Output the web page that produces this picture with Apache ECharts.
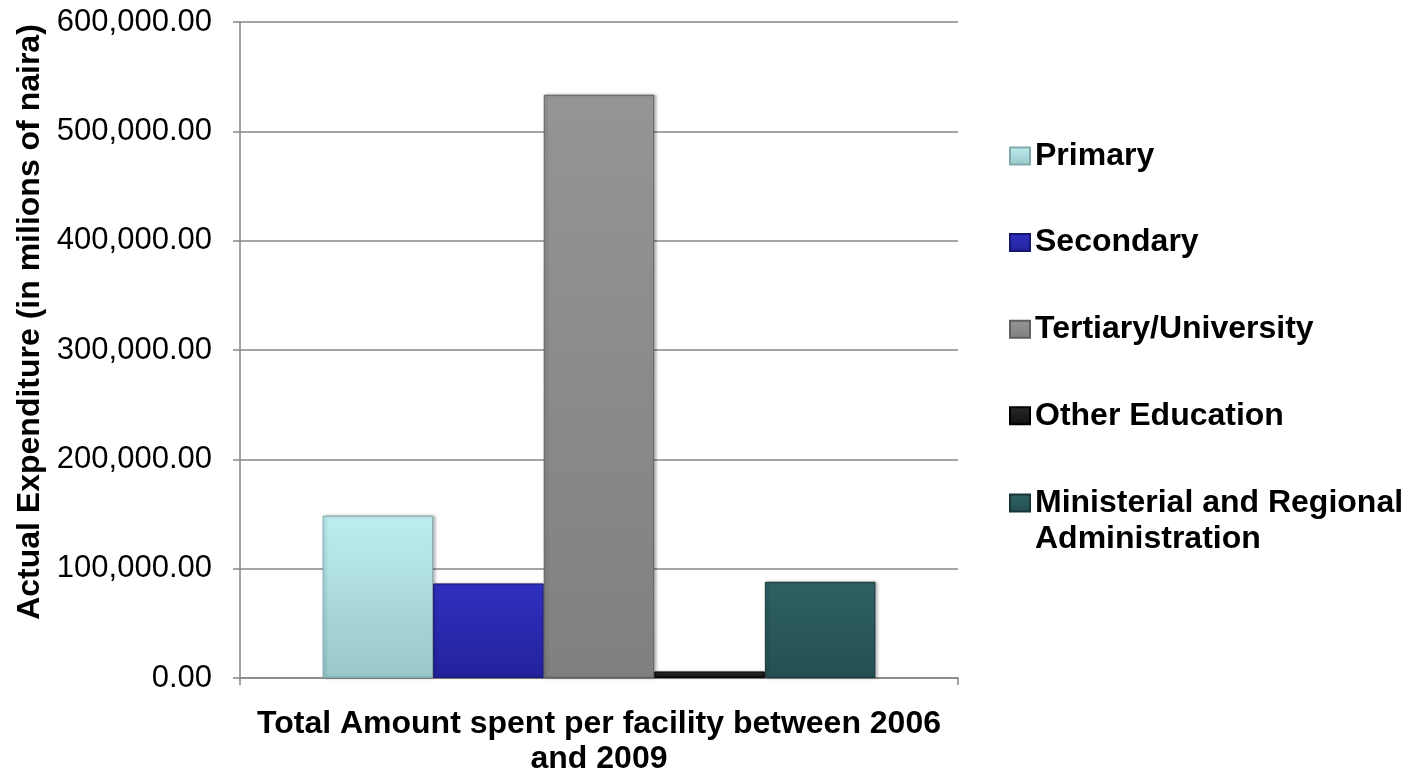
<!DOCTYPE html>
<html>
<head>
<meta charset="utf-8">
<script src="https://cdn.jsdelivr.net/npm/echarts@6/dist/echarts.min.js"></script>
<style>
  html, body { margin: 0; padding: 0; background: #ffffff; }
  #chart { width: 1418px; height: 774px; }
</style>
</head>
<body>
<div id="chart"></div>
<script>
// Education spending by facility type, 2006-2009 (millions of naira)
const categories = ['Total Amount spent per facility between 2006\nand 2009'];
const seriesNames = ['Primary', 'Secondary', 'Tertiary/University', 'Other Education', 'Ministerial and Regional Administration'];
const primaryValues = [148500];
const secondaryValues = [86500];
const tertiaryValues = [533500];
const otherValues = [6000];
const ministerialValues = [88000];
const yTicks = [0, 100000, 200000, 300000, 400000, 500000, 600000];

const seriesValues = [primaryValues, secondaryValues, tertiaryValues, otherValues, ministerialValues];
// top / bottom / edge colours of each bevelled bar
const palette = [
  ['#bfeef1', '#98c6c9', '#7fa9ac'],
  ['#3030c0', '#22229c', '#16166e'],
  ['#959595', '#808080', '#5e5e5e'],
  ['#2a2a2a', '#101010', '#000000'],
  ['#2f6064', '#244f52', '#173638']
];

const FONT = '"Liberation Sans", Arial, sans-serif';
const legendText = { fontFamily: FONT, fontSize: 32, fontWeight: 'bold', color: '#000000', lineHeight: 36 };

function fill(c) {
  return new echarts.graphic.LinearGradient(0, 0, 0, 1, [
    { offset: 0, color: c[0] },
    { offset: 1, color: c[1] }
  ]);
}

const series = seriesNames.map((name, i) => ({
  name: name,
  type: 'bar',
  data: seriesValues[i],
  barGap: '0%',
  barCategoryGap: '23%',
  itemStyle: {
    color: fill(palette[i]),
    borderColor: palette[i][2],
    borderWidth: 1,
    shadowColor: 'rgba(0,0,0,0.25)',
    shadowBlur: 3,
    shadowOffsetX: 2,
    shadowOffsetY: 0
  },
  emphasis: { disabled: true }
}));

const chart = echarts.init(document.getElementById('chart'), null, { renderer: 'canvas' });

const legendBase = {
  orient: 'vertical',
  left: 1009,
  padding: 0,
  itemWidth: 20,
  itemHeight: 17,
  icon: 'rect',
  textStyle: legendText
};

chart.setOption({
  animation: false,
  backgroundColor: '#ffffff',
  grid: { left: 240, right: 460, top: 22, bottom: 96, containLabel: false, outerBoundsMode: 'none' },
  legend: [
    Object.assign({}, legendBase, {
      top: 138,
      itemGap: 50.6,
      data: seriesNames.slice(0, 4)
    }),
    // the two-line entry: the blank first line keeps the icon beside the first line of text
    Object.assign({}, legendBase, {
      top: 449,
      data: seriesNames.slice(4),
      formatter: function () {
        return '\nMinisterial and Regional\nAdministration';
      }
    })
  ],
  xAxis: {
    type: 'category',
    data: categories,
    axisLine: { lineStyle: { color: '#868686', width: 1.5 } },
    axisTick: { show: true, length: 7, lineStyle: { color: '#868686', width: 1.5 } },
    axisLabel: {
      fontFamily: FONT, fontSize: 32, fontWeight: 'bold', color: '#000000',
      lineHeight: 35, margin: 29
    }
  },
  yAxis: {
    type: 'value',
    min: 0,
    max: 600000,
    interval: 100000,
    name: 'Actual Expenditure (in milions of naira)',
    nameLocation: 'middle',
    nameRotate: 90,
    nameGap: 193,
    nameTextStyle: { fontFamily: FONT, fontSize: 32, fontWeight: 'bold', color: '#000000', padding: [0, 0, 0, 56] },
    axisLine: { show: true, lineStyle: { color: '#868686', width: 1.5 } },
    axisTick: { show: true, length: 7, lineStyle: { color: '#868686', width: 1.5 } },
    splitLine: { show: true, lineStyle: { color: '#868686', width: 1.5 } },
    axisLabel: {
      fontFamily: FONT, fontSize: 31, color: '#000000', margin: 28,
      formatter: function (v) {
        return yTicks.indexOf(v) >= 0
          ? v.toLocaleString('en-US', { minimumFractionDigits: 2, maximumFractionDigits: 2 })
          : '';
      }
    }
  },
  series: series
});
</script>
</body>
</html>
